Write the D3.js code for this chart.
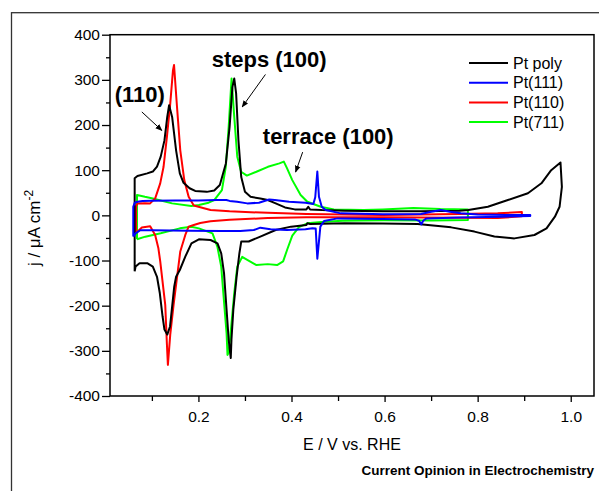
<!DOCTYPE html>
<html>
<head>
<meta charset="utf-8">
<script src="https://cdn.jsdelivr.net/npm/d3@7"></script>
<style>
  body { margin: 0; background: #fff; }
  text { font-family: "Liberation Sans", Arial, sans-serif; fill: #000; }
</style>
</head>
<body>
<div id="chart"></div>
<script>
// cyclic voltammograms, points as [E (V vs RHE), j (uA/cm2)], anodic branch then cathodic branch
var ptPoly = [
  [0.063,-124],[0.063,82],[0.069,87],[0.090,93],[0.102,97],[0.111,108],[0.119,130],[0.127,166],
  [0.133,218],[0.137,244],[0.1435,218],[0.152,144],[0.160,93],[0.168,72],[0.181,60],[0.193,54],
  [0.218,52],[0.234,55],[0.246,67],[0.259,115],[0.267,196],[0.273,284],[0.277,303],[0.281,270],
  [0.286,166],[0.292,85],[0.300,52],[0.312,41],[0.333,37.5],[0.349,34],[0.366,26.5],[0.386,17.6],
  [0.407,13.2],[0.432,13.2],[0.436,19],[0.440,13],[0.465,11.7],[0.514,10.3],[0.596,9],[0.679,9],
  [0.761,10.3],[0.780,11.7],[0.822,19],[0.865,34],[0.908,49],[0.937,71],[0.958,100],[0.978,117],
  [0.981,63],[0.976,19],[0.966,-3],[0.948,-29],[0.922,-43.5],[0.879,-51],[0.836,-47],[0.793,-36],
  [0.743,-26.6],[0.671,-19.2],[0.596,-18],[0.514,-17.7],[0.440,-19.2],[0.434,-17.7],[0.432,-21.4],
  [0.399,-25],[0.366,-32.5],[0.333,-47],[0.308,-58],[0.292,-58],[0.288,-84],[0.282,-136],[0.275,-209],
  [0.271,-275],[0.2695,-316],[0.265,-275],[0.2605,-209],[0.255,-128],[0.249,-84],[0.241,-62],
  [0.226,-54.6],[0.201,-53],[0.185,-62],[0.172,-91],[0.160,-121],[0.152,-136],[0.148,-158],
  [0.1435,-202],[0.139,-246],[0.133,-264],[0.127,-253],[0.123,-224],[0.117,-172],[0.111,-136],
  [0.102,-113.5],[0.090,-106],[0.0735,-106],[0.065,-113.5],[0.063,-124]
];
var pt111 = [
  [0.060,-47],[0.060,19],[0.063,28],[0.069,30],[0.080,31.6],[0.100,32.4],[0.150,33],[0.200,33],
  [0.240,33.8],[0.260,34],[0.267,32],[0.283,30],[0.305,26.5],[0.330,28],[0.352,35],[0.364,34],
  [0.395,30],[0.430,28],[0.447,25],[0.451,40],[0.4555,97],[0.459,41],[0.465,19],[0.4735,11.7],
  [0.506,4.4],[0.596,2.2],[0.678,3],[0.700,8],[0.721,11.7],[0.740,8],[0.764,4.4],[0.800,2],
  [0.860,1],[0.913,1],
  [0.913,-1.5],[0.850,-3],[0.760,-4.5],[0.690,-6.7],[0.683,-12],[0.679,-20],[0.674,-12],
  [0.665,-9],[0.596,-8],[0.499,-6.7],[0.470,-12.6],[0.462,-25],[0.4555,-96],[0.452,-29],
  [0.445,-28.8],[0.430,-31],[0.390,-32.5],[0.355,-31],[0.333,-27.3],[0.319,-32.5],[0.290,-34.7],
  [0.250,-34.7],[0.180,-34],[0.100,-33],[0.075,-33],[0.065,-40],[0.060,-47]
];
var pt110 = [
  [0.066,-38],[0.066,20],[0.069,26],[0.085,27],[0.0963,26.5],[0.1071,37.6],[0.1179,70.7],
  [0.125,107],[0.1323,174],[0.1394,247],[0.1453,321],[0.1476,333],[0.154,240],[0.161,144],
  [0.1696,78],[0.179,41],[0.190,22],[0.226,12],[0.267,9],[0.349,5.5],[0.432,2.9],[0.596,0.7],
  [0.761,3],[0.843,4.4],[0.895,7.3],
  [0.895,-2],[0.843,-6],[0.761,-5.5],[0.596,-4],[0.432,-4],[0.349,-6],[0.267,-10],[0.226,-13],
  [0.204,-17],[0.190,-21.4],[0.179,-25],[0.1718,-43.5],[0.161,-80],[0.1538,-139],[0.1466,-198],
  [0.1394,-264.5],[0.1344,-331],[0.1323,-286],[0.1287,-198],[0.118,-102.5],[0.114,-73],
  [0.107,-43.5],[0.0963,-24],[0.0784,-27],[0.069,-36],[0.066,-38]
];
var pt711 = [
  [0.068,-53],[0.068,45],[0.085,41],[0.102,37.5],[0.1435,26.5],[0.1847,20.6],[0.201,22.8],
  [0.222,28],[0.234,33.8],[0.2505,56],[0.2588,107.5],[0.265,196],[0.2712,303],[0.277,218],
  [0.2835,130],[0.2917,96.5],[0.304,88],[0.3246,96.5],[0.3493,107.5],[0.374,115],[0.3835,119],
  [0.390,105],[0.4017,78],[0.4196,45],[0.434,30],[0.4627,19],[0.491,13.2],[0.555,11.7],
  [0.596,13.2],[0.662,16.2],[0.720,14],[0.779,13.2],
  [0.779,-10.4],[0.700,-11.5],[0.600,-11],[0.510,-12],[0.470,-14],[0.434,-17.7],[0.416,-26],
  [0.4017,-45],[0.391,-75],[0.382,-102],[0.369,-110],[0.349,-108],[0.3246,-110],[0.304,-98],
  [0.294,-92],[0.2835,-113.5],[0.277,-172],[0.2705,-246],[0.2653,-303],[0.2625,-309],
  [0.2605,-261],[0.2547,-187],[0.249,-113.5],[0.2407,-69.3],[0.2302,-39.8],[0.201,-28.8],
  [0.1847,-25.1],[0.160,-28.8],[0.1188,-39.8],[0.0859,-47.2],[0.068,-53]
];

var seriesNames = ["Pt poly", "Pt(111)", "Pt(110)", "Pt(711)"];
var seriesColors = ["#000000", "#0000ff", "#ff0000", "#00ff00"];
var seriesData = [ptPoly, pt111, pt110, pt711];
var drawOrder = [3, 2, 0, 1];

var xMajorTicks = [0.2, 0.4, 0.6, 0.8, 1.0];
var xMinorTicks = [0.1, 0.3, 0.5, 0.7, 0.9];
var yMajorTicks = [-400, -300, -200, -100, 0, 100, 200, 300, 400];
var yMinorTicks = [-350, -250, -150, -50, 50, 150, 250, 350];

// annotation texts and arrows, in data units
var labels = [
  {text: "(110)", E: 0.074, j: 250},
  {text: "steps (100)", E: 0.352, j: 328},
  {text: "terrace (100)", E: 0.479, j: 158}
];
var arrows = [
  {from: [0.0784, 229], to: [0.1215, 188]},
  {from: [0.344, 312], to: [0.294, 240]},
  {from: [0.424, 140], to: [0.4088, 96]}
];

var width = 599, height = 491;
var margin = {top: 34.7, right: 5, bottom: 95, left: 110};

var svg = d3.select("#chart").append("svg")
    .attr("width", width)
    .attr("height", height)
    .style("display", "block");

svg.append("rect").attr("width", width).attr("height", height).attr("fill", "#fff");

// outer figure frame
svg.append("rect")
    .attr("x", 11.5).attr("y", 12.7)
    .attr("width", 620).attr("height", 520)
    .attr("fill", "none").attr("stroke", "#333").attr("stroke-width", 1.3);

var xScale = d3.scaleLinear().domain([0.01, 1.05]).range([margin.left, width - margin.right]);
var yScale = d3.scaleLinear().domain([-400, 400]).range([height - margin.bottom, margin.top]);

var defs = svg.append("defs");
defs.append("clipPath").attr("id", "plotclip")
  .append("rect")
    .attr("x", margin.left).attr("y", margin.top)
    .attr("width", xScale.range()[1] - margin.left)
    .attr("height", yScale.range()[0] - margin.top);

defs.append("marker")
    .attr("id", "arrowhead")
    .attr("viewBox", "0 0 10 10")
    .attr("refX", 9).attr("refY", 5)
    .attr("markerWidth", 7).attr("markerHeight", 7)
    .attr("markerUnits", "userSpaceOnUse")
    .attr("orient", "auto")
  .append("path")
    .attr("d", "M0,1 L10,5 L0,9 Z")
    .attr("fill", "#000");

var line = d3.line()
    .x(function(d) { return xScale(d[0]); })
    .y(function(d) { return yScale(d[1]); });

var plot = svg.append("g").attr("clip-path", "url(#plotclip)");
drawOrder.forEach(function(i) {
  plot.append("path")
      .datum(seriesData[i])
      .attr("fill", "none")
      .attr("stroke", seriesColors[i])
      .attr("stroke-width", 2)
      .attr("stroke-linejoin", "round")
      .attr("d", line);
});

// axes
var yBase = yScale.range()[0];
var xAxisMajor = svg.append("g")
    .attr("transform", "translate(0," + yBase + ")")
    .call(d3.axisBottom(xScale).tickValues(xMajorTicks).tickSize(6).tickPadding(9)
      .tickFormat(function(d) { return d.toFixed(1); }));
var xAxisMinor = svg.append("g")
    .attr("transform", "translate(0," + yBase + ")")
    .call(d3.axisBottom(xScale).tickValues(xMinorTicks).tickSize(5).tickFormat(""));
var yAxisMajor = svg.append("g")
    .attr("transform", "translate(" + margin.left + ",0)")
    .call(d3.axisLeft(yScale).tickValues(yMajorTicks).tickSize(8).tickPadding(2)
      .tickFormat(function(d) { return String(d); }));
var yAxisMinor = svg.append("g")
    .attr("transform", "translate(" + margin.left + ",0)")
    .call(d3.axisLeft(yScale).tickValues(yMinorTicks).tickSize(4).tickFormat(""));

[xAxisMajor, xAxisMinor, yAxisMajor, yAxisMinor].forEach(function(a) {
  a.select(".domain").remove();
  a.selectAll(".tick line").attr("stroke", "#000").attr("stroke-width", 1.3);
  a.selectAll(".tick text")
    .style("font-family", "'Liberation Sans', Arial, sans-serif")
    .style("font-size", "15.5px")
    .attr("fill", "#000");
});

// plot box
svg.append("rect")
    .attr("x", margin.left).attr("y", margin.top)
    .attr("width", xScale.range()[1] - margin.left)
    .attr("height", yBase - margin.top)
    .attr("fill", "none").attr("stroke", "#000").attr("stroke-width", 1.5);

// axis titles
svg.append("text")
    .attr("x", (margin.left + xScale.range()[1]) / 2)
    .attr("y", 450)
    .attr("text-anchor", "middle")
    .style("font-size", "16px")
    .text("E / V vs. RHE");

var yt = svg.append("text")
    .attr("transform", "translate(40,228) rotate(-90)")
    .attr("text-anchor", "middle")
    .style("font-size", "17px");
yt.append("tspan").text("j / \u03bcA cm");
yt.append("tspan").attr("dy", -7).style("font-size", "12px").text("-2");

svg.append("text")
    .attr("x", 594).attr("y", 475)
    .attr("text-anchor", "end")
    .style("font-size", "13.5px")
    .style("font-weight", "bold")
    .attr("fill", "#222")
    .text("Current Opinion in Electrochemistry");

// annotations
labels.forEach(function(l) {
  svg.append("text")
      .attr("x", xScale(l.E)).attr("y", yScale(l.j))
      .attr("text-anchor", "middle")
      .style("font-size", "22px")
      .style("font-weight", "bold")
      .text(l.text);
});
arrows.forEach(function(a) {
  svg.append("line")
      .attr("x1", xScale(a.from[0])).attr("y1", yScale(a.from[1]))
      .attr("x2", xScale(a.to[0])).attr("y2", yScale(a.to[1]))
      .attr("stroke", "#000").attr("stroke-width", 1)
      .attr("marker-end", "url(#arrowhead)");
});

// legend
var legend = svg.append("g").attr("transform", "translate(469,63)");
seriesNames.forEach(function(name, i) {
  var g = legend.append("g").attr("transform", "translate(0," + (i * 19.7) + ")");
  g.append("line").attr("x1", 0).attr("x2", 39).attr("y1", 0).attr("y2", 0)
      .attr("stroke", seriesColors[i]).attr("stroke-width", 2);
  g.append("text").attr("x", 44).attr("y", 5.5)
      .style("font-size", "16px")
      .text(name);
});
</script>
</body>
</html>
